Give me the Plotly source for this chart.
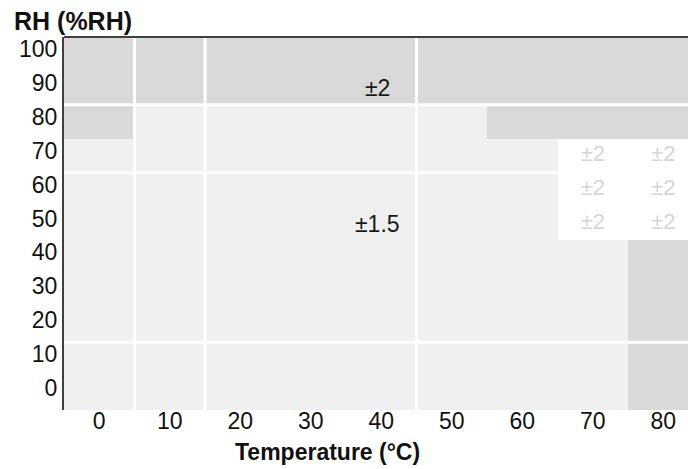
import plotly.graph_objects as go

# Grid axes
temps = [0, 10, 20, 30, 40, 50, 60, 70, 80]
rh_levels = [0, 10, 20, 30, 40, 50, 60, 70, 80, 90, 100]

# Shade per RH row (ascending), one code per temperature column:
# L = light grey, D = dark grey, W = white
zones = [
    "LLLLLLLLD",  # 0
    "LLLLLLLLD",  # 10
    "LLLLLLLLD",  # 20
    "LLLLLLLLD",  # 30
    "LLLLLLLLD",  # 40
    "LLLLLLLWW",  # 50
    "LLLLLLLWW",  # 60
    "LLLLLLLWW",  # 70
    "DLLLLLDDD",  # 80
    "DDDDDDDDD",  # 90
    "DDDDDDDDD",  # 100
]
shade_code = {"L": 0, "D": 1, "W": 2}

# Accuracy labels
main_labels = ["±2", "±1.5"]
main_label_temp = [40, 40]
main_label_rh = [90, 50]

faint_labels = ["±2", "±2", "±2", "±2", "±2", "±2"]
faint_label_temp = [70, 80, 70, 80, 70, 80]
faint_label_rh = [70, 70, 60, 60, 50, 50]

# Cell borders drawn as white dividers
divider_temps = [5, 15, 45]
divider_rh = [85, 65, 15]

z = [[shade_code[c] for c in row] for row in zones]

fig = go.Figure()
fig.add_trace(go.Heatmap(
    x=temps, y=rh_levels, z=z,
    zmin=0, zmax=2,
    colorscale=[[0, "#f0f0f0"], [0.5, "#d9d9d9"], [1, "#ffffff"]],
    showscale=False, hoverinfo="skip",
))
fig.add_trace(go.Scatter(
    x=faint_label_temp, y=faint_label_rh, text=faint_labels, mode="text",
    textfont=dict(family="Liberation Sans, Arial", size=22, color="#d6d6d6"),
    textposition="middle center", hoverinfo="skip", showlegend=False,
))

shapes = []
for t in divider_temps:
    shapes.append(dict(type="line", xref="x", yref="paper", x0=t, x1=t, y0=0, y1=1,
                       line=dict(color="#ffffff", width=3), layer="above"))
for r in divider_rh:
    shapes.append(dict(type="line", xref="paper", yref="y", x0=0, x1=1, y0=r, y1=r,
                       line=dict(color="#ffffff", width=3), layer="above"))
# Top frame line
shapes.append(dict(type="line", xref="paper", yref="paper", x0=0, x1=1, y0=1, y1=1,
                   line=dict(color="#404040", width=2), layer="above"))

tick_font = dict(family="Liberation Sans, Arial", size=23, color="#111111")

annotations = [
    dict(text=lab, x=tx, y=ry, xref="x", yref="y", showarrow=False, xshift=-4,
         font=dict(family="Liberation Sans, Arial", size=23, color="#1a1a1a"))
    for lab, tx, ry in zip(main_labels, main_label_temp, main_label_rh)
]
annotations += [
    dict(text="<b>RH (%RH)</b>", xref="paper", yref="paper", x=-64/624, y=1 + 16/373,
         xanchor="left", yanchor="middle", showarrow=False, xshift=12,
         font=dict(family="Liberation Sans, Arial", size=25, color="#111111")),
    dict(text="<b>Temperature (°C)</b>", xref="paper", yref="paper", x=0.423, y=-42/373,
         xanchor="center", yanchor="middle", showarrow=False,
         font=dict(family="Liberation Sans, Arial", size=23, color="#111111")),
]

fig.update_layout(
    width=688, height=469,
    margin=dict(l=64, r=0, t=37, b=59),
    paper_bgcolor="#ffffff", plot_bgcolor="#ffffff",
    showlegend=False,
    shapes=shapes,
    annotations=annotations,
    xaxis=dict(range=[-5, 83.5], tickvals=temps, ticktext=[str(t) for t in temps],
               showgrid=False, zeroline=False, showline=False, ticks="",
               ticklabelstandoff=-5, tickfont=tick_font, fixedrange=True),
    yaxis=dict(range=[-5, 105], tickvals=rh_levels, ticktext=[str(r) for r in rh_levels],
               showgrid=False, zeroline=False, showline=True, linecolor="#404040",
               linewidth=2, ticks="", ticklabelstandoff=0, ticklabelshift=-5,
               tickfont=tick_font, fixedrange=True),
)

fig.write_html("out.html")
